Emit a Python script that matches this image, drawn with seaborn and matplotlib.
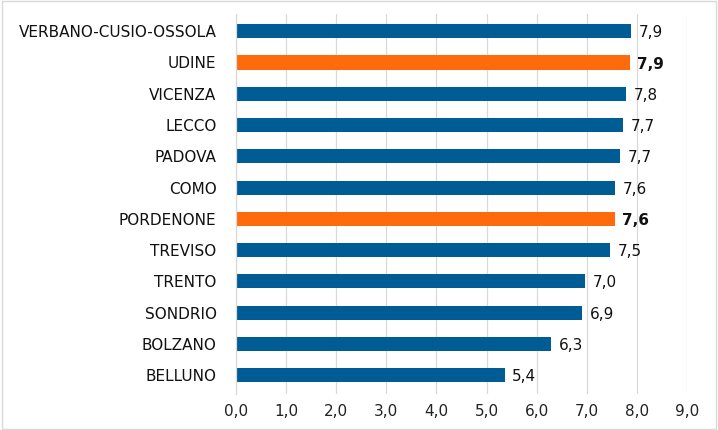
import pandas as pd
import matplotlib
matplotlib.use('Agg')
import matplotlib.pyplot as plt
import seaborn as sns
from matplotlib.patches import Rectangle

province = ['VERBANO-CUSIO-OSSOLA', 'UDINE', 'VICENZA', 'LECCO', 'PADOVA', 'COMO',
            'PORDENONE', 'TREVISO', 'TRENTO', 'SONDRIO', 'BOLZANO', 'BELLUNO']
valori = [7.89, 7.86, 7.78, 7.72, 7.66, 7.57, 7.56, 7.46, 6.96, 6.91, 6.29, 5.36]
evidenziate = ['UDINE', 'PORDENONE']
ticks = [0, 1, 2, 3, 4, 5, 6, 7, 8, 9]

BLU = '#005C94'
ARANCIO = '#FF6A0D'

sns.set_style('white')
plt.rcParams['font.family'] = ['DejaVu Sans']

df = pd.DataFrame({'provincia': province, 'valore': valori})
df['gruppo'] = ['hl' if p in evidenziate else 'base' for p in province]

fig = plt.figure(figsize=(7.18, 4.30), dpi=100)
ax = fig.add_axes([236 / 718, 36 / 430, (687 - 236) / 718, (416 - 36) / 430])

sns.barplot(data=df, y='provincia', x='valore', hue='gruppo',
            palette={'base': BLU, 'hl': ARANCIO}, dodge=False,
            width=0.45, legend=False, ax=ax, saturation=1, linewidth=0)

ax.set_xlim(0, 9)
ax.set_ylim(11.6, -0.55)
ax.set_xticks(ticks)
ax.set_xticklabels([f'{t:.1f}'.replace('.', ',') for t in ticks], fontsize=11, color='#222222')
ax.tick_params(axis='y', labelsize=11, colors='#111111', length=0, pad=14)
ax.tick_params(axis='x', length=0, pad=7)
ax.set_xlabel('')
ax.set_ylabel('')
ax.xaxis.grid(True, color='#D9D9D9', linewidth=0.9)
ax.set_axisbelow(True)
for s in ['top', 'right', 'bottom']:
    ax.spines[s].set_visible(False)
ax.spines['left'].set_color('#D9D9D9')
ax.spines['left'].set_linewidth(0.9)

for i, (p, v) in enumerate(zip(province, valori)):
    bold = p in evidenziate
    ax.text(v + 0.15, i + 0.05, f'{v:.1f}'.replace('.', ','), va='center', ha='left',
            fontsize=11, color='#111111', fontweight='bold' if bold else 'normal')

fig.patches.append(Rectangle((0.003, 0.003), 0.994, 0.994, transform=fig.transFigure,
                             fill=False, edgecolor='#D9D9D9', linewidth=1))

fig.savefig('out.png', dpi=100)
